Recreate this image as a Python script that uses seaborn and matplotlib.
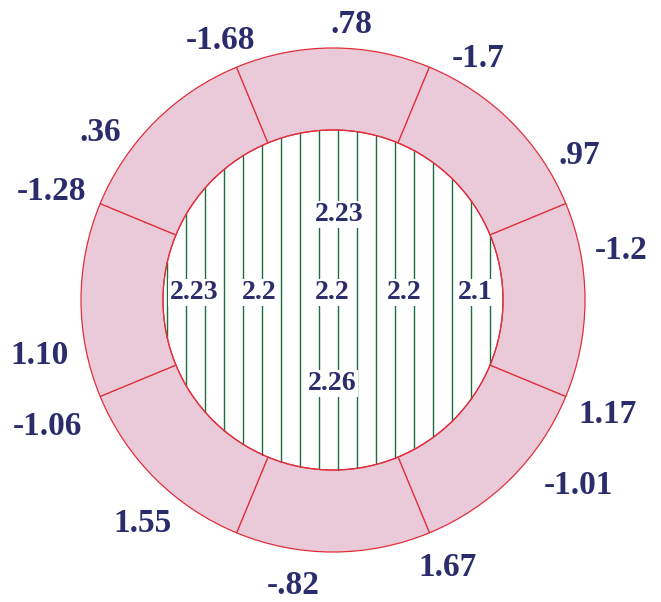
import matplotlib
matplotlib.use("Agg")
import matplotlib.pyplot as plt
from matplotlib.patches import Wedge, Circle
import seaborn as sns
import pandas as pd
import numpy as np

# values printed around the ring, clockwise from the top
ring_labels = [".78", "-1.7", ".97", "-1.2", "1.17", "-1.01", "1.67",
               "-.82", "1.55", "-1.06", "1.10", "-1.28", ".36", "-1.68"]
# where each ring label sits (degrees clockwise from top, distance from centre)
ring_label_angle = [3.9, 30.8, 59.2, 79.8, 112.3, 126.8, 156.7,
                    188.0, 220.8, 246.4, 259.7, 291.4, 306.1, 336.7]
ring_label_dist = [278, 283, 287, 293, 297, 306, 289,
                   286, 292, 312, 298, 302, 288, 285]

# values inside the hatched disc
inner_labels = ["2.23", "2.23", "2.2", "2.2", "2.2", "2.1", "2.26"]
inner_dx = [6, -139, -74, -1, 71, 142, -1]
inner_dy = [-87, -9, -9, -9, -9, -9, 82]

n_segments = 8

CX, CY = 333, 300
R_OUT, R_IN = 252, 170
PINK = "#eac9d8"
RED = "#e0303c"
GREEN = "#1b7040"
NAVY = "#2a2c6c"

sns.set_theme(style="white")

fig = plt.figure(figsize=(6.61, 6.02), dpi=100)
ax = fig.add_axes([0, 0, 1, 1])

# ── ring segments ─────────────────────────────────────────────────────
step = 360 / n_segments
for k in range(n_segments):
    t1 = 22.5 + k * step
    ax.add_patch(Wedge((CX, CY), R_OUT, t1, t1 + step, width=R_OUT - R_IN,
                       facecolor=PINK, edgecolor=RED, linewidth=0.9))

# ── vertical hatch inside the disc ────────────────────────────────────
hatch_x = np.arange(CX - 165.7, CX + R_IN, 19.0)
rows = []
for i, x in enumerate(hatch_x):
    h = np.sqrt(max(R_IN ** 2 - (x - CX) ** 2, 0))
    rows.append({"x": x, "y": CY - h, "line": i})
    rows.append({"x": x, "y": CY + h, "line": i})
hatch = pd.DataFrame(rows)
sns.lineplot(data=hatch, x="x", y="y", units="line", estimator=None,
             sort=False, color=GREEN, linewidth=1.0, ax=ax, legend=False)
ax.set_xlim(0, 661)
ax.set_ylim(602, 0)
ax.axis("off")

ax.add_patch(Circle((CX, CY), R_IN, facecolor="none", edgecolor=RED,
                    linewidth=0.9, zorder=3))

# ── labels ────────────────────────────────────────────────────────────
font = dict(family="Liberation Serif", weight="bold", color=NAVY)
for lab, ang, d in zip(ring_labels, ring_label_angle, ring_label_dist):
    a = np.deg2rad(ang)
    ax.text(CX + d * np.sin(a), CY - d * np.cos(a) + 2, lab, fontsize=24,
            ha="center", va="center", **font)

for lab, dx, dy in zip(inner_labels, inner_dx, inner_dy):
    ax.text(CX + dx, CY + dy + 1.5, lab, fontsize=20, ha="center", va="center",
            zorder=4, bbox=dict(boxstyle="square,pad=0.05", fc="white", ec="none"),
            **font)

plt.savefig("out.png", dpi=100)
plt.close()
